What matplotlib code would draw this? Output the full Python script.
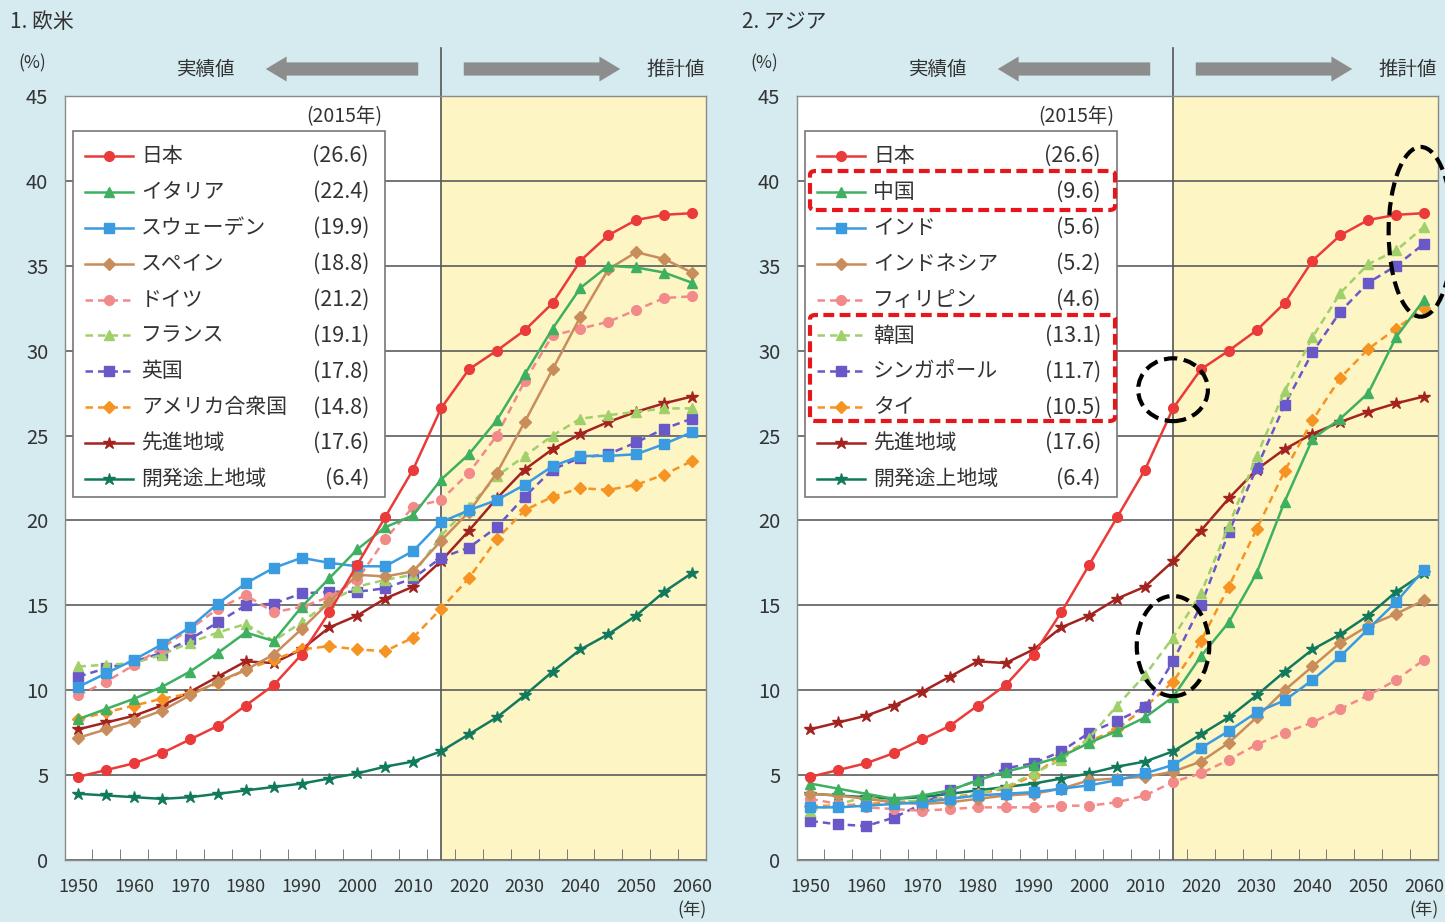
import matplotlib.pyplot as plt
from matplotlib.lines import Line2D
from matplotlib.patches import Rectangle, Ellipse, FancyBboxPatch, FancyArrowPatch

plt.rcParams['font.family'] = ['Noto Sans CJK JP', 'DejaVu Sans']

# 65歳以上人口の割合 (%)
years = [1950, 1955, 1960, 1965, 1970, 1975, 1980, 1985, 1990, 1995, 2000, 2005,
         2010, 2015, 2020, 2025, 2030, 2035, 2040, 2045, 2050, 2055, 2060]

japan = [4.9, 5.3, 5.7, 6.3, 7.1, 7.9, 9.1, 10.3, 12.1, 14.6, 17.4, 20.2,
         23.0, 26.6, 28.9, 30.0, 31.2, 32.8, 35.3, 36.8, 37.7, 38.0, 38.1]
italy = [8.3, 8.9, 9.5, 10.2, 11.1, 12.2, 13.4, 12.9, 14.9, 16.6, 18.3, 19.6,
         20.3, 22.4, 23.9, 25.9, 28.6, 31.3, 33.7, 35.0, 34.9, 34.6, 34.0]
sweden = [10.2, 11.0, 11.8, 12.7, 13.7, 15.1, 16.3, 17.2, 17.8, 17.5, 17.3, 17.3,
          18.2, 19.9, 20.6, 21.2, 22.1, 23.2, 23.8, 23.8, 23.9, 24.5, 25.2]
spain = [7.2, 7.7, 8.2, 8.8, 9.7, 10.5, 11.2, 12.1, 13.6, 15.2, 16.8, 16.7,
         17.0, 18.8, 20.5, 22.8, 25.8, 28.9, 32.0, 34.8, 35.8, 35.4, 34.6]
germany = [9.7, 10.5, 11.5, 12.5, 13.6, 14.8, 15.6, 14.6, 14.9, 15.5, 16.5, 18.9,
           20.8, 21.2, 22.8, 25.0, 28.2, 30.9, 31.3, 31.7, 32.4, 33.1, 33.2]
france = [11.4, 11.5, 11.6, 12.1, 12.8, 13.4, 13.9, 12.9, 14.0, 15.2, 16.1, 16.5,
          16.8, 19.1, 20.8, 22.6, 23.8, 25.0, 26.0, 26.2, 26.4, 26.6, 26.6]
uk = [10.8, 11.3, 11.7, 12.2, 13.0, 14.0, 15.0, 15.1, 15.7, 15.8, 15.8, 16.0,
      16.6, 17.8, 18.4, 19.6, 21.4, 23.0, 23.7, 23.9, 24.6, 25.4, 26.0]
usa = [8.3, 8.7, 9.1, 9.5, 9.8, 10.4, 11.2, 11.8, 12.4, 12.6, 12.4, 12.3,
       13.1, 14.8, 16.6, 18.9, 20.6, 21.4, 21.9, 21.8, 22.1, 22.7, 23.5]
developed = [7.7, 8.1, 8.5, 9.1, 9.9, 10.8, 11.7, 11.6, 12.4, 13.7, 14.4, 15.4,
             16.1, 17.6, 19.4, 21.3, 23.0, 24.2, 25.1, 25.8, 26.4, 26.9, 27.3]
developing = [3.9, 3.8, 3.7, 3.6, 3.7, 3.9, 4.1, 4.3, 4.5, 4.8, 5.1, 5.5,
              5.8, 6.4, 7.4, 8.4, 9.7, 11.1, 12.4, 13.3, 14.4, 15.8, 16.9]

china = [4.5, 4.2, 3.9, 3.6, 3.8, 4.1, 4.7, 5.2, 5.6, 6.1, 6.9, 7.6,
         8.4, 9.6, 12.0, 14.0, 16.9, 21.1, 24.8, 26.0, 27.5, 30.8, 33.0]
india = [3.1, 3.1, 3.2, 3.3, 3.4, 3.6, 3.8, 3.9, 4.0, 4.2, 4.4, 4.7,
         5.1, 5.6, 6.6, 7.6, 8.7, 9.4, 10.6, 12.0, 13.6, 15.2, 17.1]
indonesia = [3.9, 3.8, 3.6, 3.4, 3.3, 3.4, 3.6, 3.8, 3.9, 4.2, 4.7, 4.8,
             4.9, 5.2, 5.8, 6.9, 8.4, 10.0, 11.4, 12.8, 13.8, 14.5, 15.3]
philippines = [3.6, 3.3, 3.1, 3.0, 2.9, 3.0, 3.1, 3.1, 3.1, 3.2, 3.2, 3.4,
               3.8, 4.6, 5.1, 5.9, 6.8, 7.5, 8.1, 8.9, 9.7, 10.6, 11.8]
korea = [2.9, 3.3, 3.7, 3.4, 3.5, 3.6, 3.9, 4.3, 5.1, 5.9, 7.2, 9.1,
         10.9, 13.1, 15.7, 19.7, 23.8, 27.6, 30.8, 33.4, 35.1, 35.9, 37.3]
singapore = [2.3, 2.1, 2.0, 2.5, 3.3, 4.1, 4.7, 5.4, 5.7, 6.4, 7.5, 8.2,
             9.0, 11.7, 15.0, 19.3, 23.1, 26.8, 29.9, 32.3, 34.0, 35.0, 36.3]
thailand = [3.2, 3.2, 3.3, 3.4, 3.5, 3.7, 3.9, 4.2, 5.0, 6.2, 7.0, 7.7,
            9.0, 10.5, 12.9, 16.1, 19.5, 22.9, 25.9, 28.4, 30.1, 31.3, 32.5]

x_labels = ['1950', '1960', '1970', '1980', '1990', '2000',
            '2010', '2020', '2030', '2040', '2050', '2060']

BG = '#d5ebf0'
YELLOW = '#fdf5c4'
GRID = '#5c5c5c'
TXT = '#333333'
ARROW = '#8d8d8d'

RED = '#ea3a3a'
GREEN = '#3fb060'
BLUE = '#3a9be0'
TAN = '#c98d5b'
PINK = '#f28a8a'
LGREEN = '#9fd06a'
PURPLE = '#6858c8'
ORANGE = '#f59422'
DRED = '#a3231f'
TEAL = '#127a5c'

# (名前, データ, 色, 破線, マーカー)
west = [
    ('日本', japan, RED, False, 'o'),
    ('イタリア', italy, GREEN, False, '^'),
    ('スウェーデン', sweden, BLUE, False, 's'),
    ('スペイン', spain, TAN, False, 'D'),
    ('ドイツ', germany, PINK, True, 'o'),
    ('フランス', france, LGREEN, True, '^'),
    ('英国', uk, PURPLE, True, 's'),
    ('アメリカ合衆国', usa, ORANGE, True, 'D'),
    ('先進地域', developed, DRED, False, '*'),
    ('開発途上地域', developing, TEAL, False, '*'),
]
asia = [
    ('日本', japan, RED, False, 'o'),
    ('中国', china, GREEN, False, '^'),
    ('インド', india, BLUE, False, 's'),
    ('インドネシア', indonesia, TAN, False, 'D'),
    ('フィリピン', philippines, PINK, True, 'o'),
    ('韓国', korea, LGREEN, True, '^'),
    ('シンガポール', singapore, PURPLE, True, 's'),
    ('タイ', thailand, ORANGE, True, 'D'),
    ('先進地域', developed, DRED, False, '*'),
    ('開発途上地域', developing, TEAL, False, '*'),
]

W, H = 1445, 922
fig = plt.figure(figsize=(W / 100, H / 100), dpi=100)
fig.patch.set_facecolor(BG)


def fx(x):
    return x / W


def fy(y):
    return 1 - y / H


def ftext(x, y, s, **kw):
    kw.setdefault('color', TXT)
    kw.setdefault('va', 'center')
    fig.text(fx(x), fy(y), s, **kw)


def style(color, dashed, marker):
    ms = 6 if marker == 'D' else 7
    if marker == '*':
        ms = 9
    kw = dict(color=color, marker=marker, ms=ms, mfc=color, mec=color, lw=1.8)
    if dashed:
        kw['dashes'] = (3, 2)
    return kw


def panel(left_px, series, title, title_x):
    ax = fig.add_axes([fx(left_px), fy(860), 641 / W, 764 / H])
    ax.set_facecolor('white')
    ax.set_xlim(1947.6, 2062.5)
    ax.set_ylim(0, 45)
    ax.axvspan(2015, 2062.5, color=YELLOW, zorder=0, lw=0)
    ax.set_yticks(range(0, 46, 5))
    ax.yaxis.grid(True, color=GRID, lw=1.2)
    ax.set_axisbelow(True)
    ax.set_xticks(range(1950, 2061, 10))
    ax.set_xticklabels(x_labels)
    ax.set_xticks([1952.5 + 5 * i for i in range(22)], minor=True)
    ax.tick_params(axis='x', which='major', length=0, labelsize=13,
                   colors=TXT, pad=13)
    ax.tick_params(axis='x', which='minor', direction='in', length=8,
                   color='#666666')
    ax.tick_params(axis='y', length=0, labelsize=14.5, colors=TXT, pad=12)
    for sp in ax.spines.values():
        sp.set_color('#8a8a8a')
        sp.set_linewidth(1.0)
    ax.axvline(2015, ymin=0, ymax=1.063, color='#555555', lw=1.2,
               clip_on=False, zorder=1)

    for name, data, color, dashed, marker in reversed(series):
        ax.plot(years, data, zorder=3, **style(color, dashed, marker))

    # 見出し・注記
    ftext(title_x, 22, title, fontsize=15, ha='left')
    ftext(left_px - 33, 63, '(%)', fontsize=12.5, ha='center')
    ftext(left_px + 627, 910, '(年)', fontsize=12.5, ha='center')

    # 実績値 / 推計値 の矢印
    x15 = left_px + 376
    ftext(x15 - 235, 69, '実績値', fontsize=14, ha='center')
    ftext(x15 + 235, 69, '推計値', fontsize=14, ha='center')
    astyle = 'simple,head_length=1.5,head_width=1.8,tail_width=0.95'
    for tail, tip in [(x15 - 20, x15 - 178), (x15 + 20, x15 + 182)]:
        fig.add_artist(FancyArrowPatch((fx(tail), fy(69)), (fx(tip), fy(69)),
                                       transform=fig.transFigure,
                                       arrowstyle=astyle, mutation_scale=10,
                                       color=ARROW, lw=0))

    # 凡例
    bx0, by0, bx1, by1 = left_px + 8, 131, left_px + 320, 497
    fig.add_artist(Rectangle((fx(bx0), fy(by1)), (bx1 - bx0) / W,
                             (by1 - by0) / H, transform=fig.transFigure,
                             facecolor='white', edgecolor='#777777', lw=1.2,
                             zorder=5))
    ftext(bx1 - 3, 117, '(2015年)', fontsize=14, ha='right')
    i15 = years.index(2015)
    for k, (name, data, color, dashed, marker) in enumerate(series):
        yy = 156 + 35.9 * k
        kw = style(color, dashed, marker)
        fig.add_artist(Line2D([fx(bx0 + 12), fx(bx0 + 36), fx(bx0 + 60)],
                              [fy(yy)] * 3, transform=fig.transFigure,
                              markevery=[1], zorder=6, **kw))
        ftext(bx0 + 68, yy, name, fontsize=15, ha='left', zorder=6)
        ftext(bx1 - 16, yy, f'({data[i15]:.1f})', fontsize=15.5, ha='right',
              zorder=6)
    return ax


ax1 = panel(65, west, '1. 欧米', 10)
ax2 = panel(797, asia, '2. アジア', 742)

# 注目する国の強調枠
for y0, y1 in [(171, 210), (315, 421)]:
    fig.add_artist(FancyBboxPatch((fx(810), fy(y1)), 305 / W, (y1 - y0) / H,
                                  boxstyle='round,pad=0,rounding_size=0.004',
                                  transform=fig.transFigure, fill=False,
                                  edgecolor='#e8161c', lw=3,
                                  ls=(0, (2.6, 1.3)), zorder=7))

for cx, cy, w, h in [(2015, 27.7, 12.5, 3.7), (2015, 12.6, 13.0, 5.9),
                     (2059.4, 37.0, 11.5, 10.0)]:
    ax2.add_patch(Ellipse((cx, cy), w, h, fill=False, edgecolor='black',
                          lw=3, ls=(0, (3.2, 1.6)), clip_on=False, zorder=8))

fig.savefig('out.png', dpi=100, facecolor=BG)
